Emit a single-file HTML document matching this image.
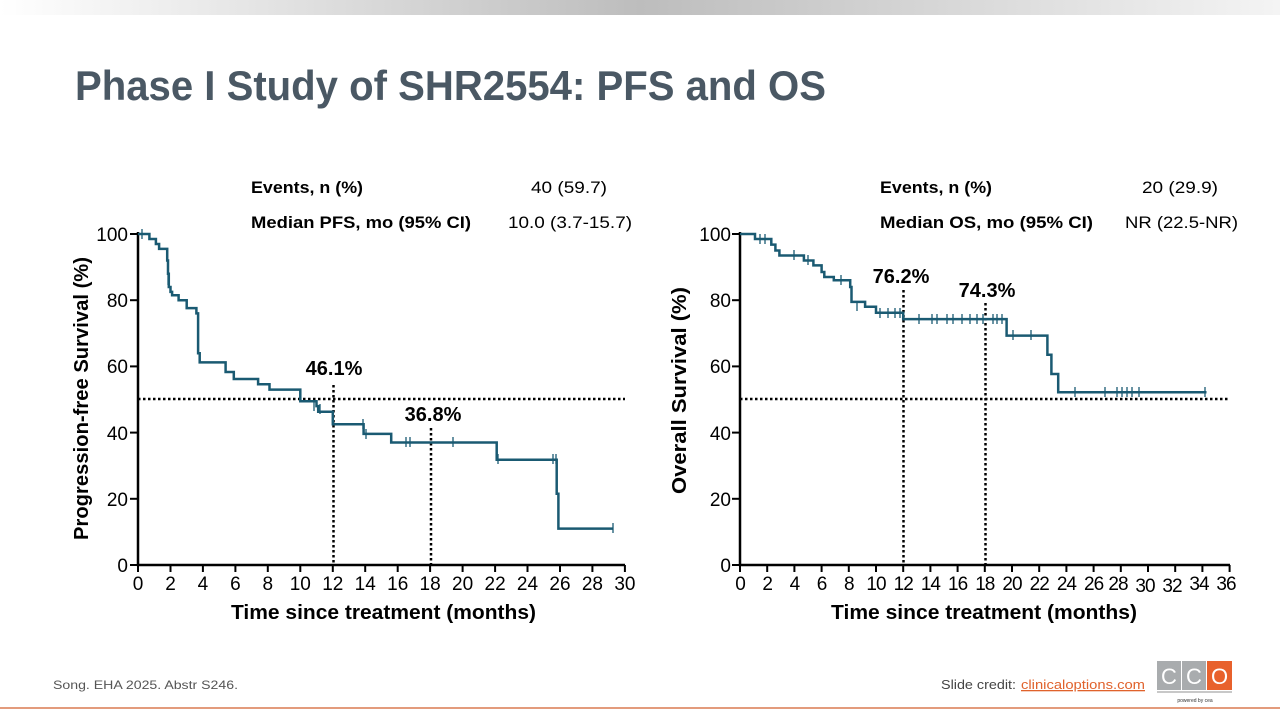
<!DOCTYPE html>
<html><head><meta charset="utf-8"><style>
html,body{margin:0;padding:0;background:#fff;}
svg{display:block;font-family:"Liberation Sans",Arial,sans-serif;}
</style></head><body>
<svg width="1280" height="720" viewBox="0 0 1280 720" xmlns="http://www.w3.org/2000/svg">
<defs>
<linearGradient id="tb" x1="0" x2="1" y1="0" y2="0">
<stop offset="0" stop-color="#ffffff"/><stop offset="0.5" stop-color="#bdbdbd"/><stop offset="1" stop-color="#f4f4f4"/>
</linearGradient>
</defs>
<rect x="0" y="0" width="1280" height="15" fill="url(#tb)"/>
<text x="75" y="100" font-size="42" font-weight="bold" fill="#4a5864" textLength="751" lengthAdjust="spacingAndGlyphs">Phase I Study of SHR2554: PFS and OS</text>

<g font-size="17" fill="#000">
<text x="251" y="193" font-weight="bold" textLength="112" lengthAdjust="spacingAndGlyphs">Events, n (%)</text>
<text x="531" y="193" textLength="76" lengthAdjust="spacingAndGlyphs">40 (59.7)</text>
<text x="251" y="228" font-weight="bold" textLength="220" lengthAdjust="spacingAndGlyphs">Median PFS, mo (95% CI)</text>
<text x="508" y="228" textLength="124" lengthAdjust="spacingAndGlyphs">10.0 (3.7-15.7)</text>
<text x="880" y="193" font-weight="bold" textLength="112" lengthAdjust="spacingAndGlyphs">Events, n (%)</text>
<text x="1142" y="193" textLength="76" lengthAdjust="spacingAndGlyphs">20 (29.9)</text>
<text x="880" y="228" font-weight="bold" textLength="213" lengthAdjust="spacingAndGlyphs">Median OS, mo (95% CI)</text>
<text x="1125" y="228" textLength="113" lengthAdjust="spacingAndGlyphs">NR (22.5-NR)</text>
</g>

<!-- LEFT chart -->
<g stroke="#000" stroke-width="2.5" fill="none">
<path d="M138,232 V565 H625"/>
</g>
<g stroke="#000" stroke-width="2">
<line x1="130" y1="234" x2="138" y2="234"/><line x1="130" y1="300.2" x2="138" y2="300.2"/><line x1="130" y1="366.4" x2="138" y2="366.4"/><line x1="130" y1="432.6" x2="138" y2="432.6"/><line x1="130" y1="498.8" x2="138" y2="498.8"/><line x1="130" y1="565" x2="138" y2="565"/>
<line x1="138" y1="565" x2="138" y2="572"/><line x1="170.5" y1="565" x2="170.5" y2="572"/><line x1="202.9" y1="565" x2="202.9" y2="572"/><line x1="235.4" y1="565" x2="235.4" y2="572"/><line x1="267.8" y1="565" x2="267.8" y2="572"/><line x1="300.3" y1="565" x2="300.3" y2="572"/><line x1="332.8" y1="565" x2="332.8" y2="572"/><line x1="365.2" y1="565" x2="365.2" y2="572"/><line x1="397.7" y1="565" x2="397.7" y2="572"/><line x1="430.1" y1="565" x2="430.1" y2="572"/><line x1="462.6" y1="565" x2="462.6" y2="572"/><line x1="495.1" y1="565" x2="495.1" y2="572"/><line x1="527.5" y1="565" x2="527.5" y2="572"/><line x1="560" y1="565" x2="560" y2="572"/><line x1="592.4" y1="565" x2="592.4" y2="572"/><line x1="624.9" y1="565" x2="624.9" y2="572"/>
</g>
<g font-size="19" fill="#000" text-anchor="end">
<text x="128" y="241">100</text><text x="128" y="307">80</text><text x="128" y="373">60</text><text x="128" y="440">40</text><text x="128" y="506">20</text><text x="128" y="572">0</text>
</g>
<g font-size="19" fill="#000" text-anchor="middle">
<text x="138" y="590">0</text><text x="170.5" y="590">2</text><text x="202.9" y="590">4</text><text x="235.4" y="590">6</text><text x="267.8" y="590">8</text><text x="300.3" y="590">10</text><text x="332.8" y="590">12</text><text x="365.2" y="590">14</text><text x="397.7" y="590">16</text><text x="430.1" y="590">18</text><text x="462.6" y="590">20</text><text x="495.1" y="590">22</text><text x="527.5" y="590">24</text><text x="560" y="590">26</text><text x="592.4" y="590">28</text><text x="624.9" y="590">30</text>
</g>
<text x="231" y="619" font-size="20" font-weight="bold" textLength="305" lengthAdjust="spacingAndGlyphs">Time since treatment (months)</text>
<text transform="translate(88,540) rotate(-90)" font-size="20" font-weight="bold" textLength="283" lengthAdjust="spacingAndGlyphs">Progression-free Survival (%)</text>
<g stroke="#000" stroke-width="2.5" stroke-dasharray="2.5,2.5" fill="none">
<line x1="138" y1="399" x2="625" y2="399"/>
<line x1="333.5" y1="385" x2="333.5" y2="565"/>
<line x1="431" y1="428" x2="431" y2="565"/>
</g>
<path d="M138,234 H149.4 V239 H155.9 V244 H159.1 V248.9 H167.2 V260.5 H168 V273.7 H168.8 V287 H170.5 V291.9 H172.1 V295.2 H178.6 V300.2 H186.7 V308.1 H196.4 V313.4 H198.1 V353.2 H199.7 V362.4 H225.6 V372 H233.8 V379 H258.1 V384.3 H269.5 V389.6 H300.3 V401.2 H316.5 V406.1 H318.2 V411.7 H332.8 V424.3 H363.6 V433.9 H391.2 V442.5 H496.7 V459.7 H556.7 V493.8 H558.4 V528.6 H613.5" fill="none" stroke="#1a5a72" stroke-width="2.5"/>
<g stroke="#1a5a72" stroke-width="1.3">
<line x1="142" y1="229" x2="142" y2="239"/><line x1="168" y1="275" x2="168" y2="285"/><line x1="314" y1="401" x2="314" y2="411"/><line x1="320" y1="404" x2="320" y2="414"/><line x1="363" y1="419" x2="363" y2="429"/><line x1="366" y1="429" x2="366" y2="439"/><line x1="406" y1="437" x2="406" y2="447"/><line x1="410" y1="437" x2="410" y2="447"/><line x1="453" y1="437" x2="453" y2="447"/><line x1="498" y1="454" x2="498" y2="464"/><line x1="553" y1="454" x2="553" y2="464"/><line x1="556" y1="454" x2="556" y2="464"/><line x1="613" y1="523" x2="613" y2="533"/>
</g>
<text x="334" y="375" font-size="20" font-weight="bold" text-anchor="middle">46.1%</text>
<text x="433" y="421" font-size="20" font-weight="bold" text-anchor="middle">36.8%</text>

<!-- RIGHT chart -->
<g stroke="#000" stroke-width="2.5" fill="none">
<path d="M740,232 V565 H1230"/>
</g>
<g stroke="#000" stroke-width="2">
<line x1="732" y1="234" x2="740" y2="234"/><line x1="732" y1="300.2" x2="740" y2="300.2"/><line x1="732" y1="366.4" x2="740" y2="366.4"/><line x1="732" y1="432.6" x2="740" y2="432.6"/><line x1="732" y1="498.8" x2="740" y2="498.8"/><line x1="732" y1="565" x2="740" y2="565"/>
<line x1="740" y1="565" x2="740" y2="572"/><line x1="767.2" y1="565" x2="767.2" y2="572"/><line x1="794.4" y1="565" x2="794.4" y2="572"/><line x1="821.6" y1="565" x2="821.6" y2="572"/><line x1="848.8" y1="565" x2="848.8" y2="572"/><line x1="876" y1="565" x2="876" y2="572"/><line x1="903.2" y1="565" x2="903.2" y2="572"/><line x1="930.4" y1="565" x2="930.4" y2="572"/><line x1="957.6" y1="565" x2="957.6" y2="572"/><line x1="984.8" y1="565" x2="984.8" y2="572"/><line x1="1012" y1="565" x2="1012" y2="572"/><line x1="1039.2" y1="565" x2="1039.2" y2="572"/><line x1="1066.4" y1="565" x2="1066.4" y2="572"/><line x1="1093.6" y1="565" x2="1093.6" y2="572"/><line x1="1120.8" y1="565" x2="1120.8" y2="572"/><line x1="1148" y1="565" x2="1148" y2="572"/><line x1="1175.2" y1="565" x2="1175.2" y2="572"/><line x1="1202.4" y1="565" x2="1202.4" y2="572"/><line x1="1229.6" y1="565" x2="1229.6" y2="572"/>
</g>
<g font-size="19" fill="#000" text-anchor="end">
<text x="731" y="241">100</text><text x="731" y="307">80</text><text x="731" y="373">60</text><text x="731" y="440">40</text><text x="731" y="506">20</text><text x="731" y="572">0</text>
</g>
<g font-size="19" fill="#000" text-anchor="middle" letter-spacing="-1">
<text x="740" y="590">0</text><text x="767.2" y="590">2</text><text x="794.4" y="590">4</text><text x="821.6" y="590">6</text><text x="848.8" y="590">8</text><text x="876" y="590">10</text><text x="903.2" y="590">12</text><text x="930.4" y="590">14</text><text x="957.6" y="590">16</text><text x="984.8" y="590">18</text><text x="1012" y="590">20</text><text x="1039.2" y="590">22</text><text x="1066.4" y="590">24</text><text x="1093.6" y="590">26</text><text x="1118" y="590">28</text><text x="1145" y="592">30</text><text x="1172" y="592">32</text><text x="1199" y="590">34</text><text x="1226" y="590">36</text>
</g>
<text x="831" y="619" font-size="20" font-weight="bold" textLength="306" lengthAdjust="spacingAndGlyphs">Time since treatment (months)</text>
<text transform="translate(686,494) rotate(-90)" font-size="20" font-weight="bold" textLength="207" lengthAdjust="spacingAndGlyphs">Overall Survival (%)</text>
<g stroke="#000" stroke-width="2.5" stroke-dasharray="2.5,2.5" fill="none">
<line x1="740" y1="399" x2="1230" y2="399"/>
<line x1="903.5" y1="290" x2="903.5" y2="565"/>
<line x1="985.5" y1="303" x2="985.5" y2="565"/>
</g>
<path d="M740,234 H755 V239 H771.3 V244.6 H775.4 V250.5 H779.4 V255.5 H803.9 V260.5 H813.4 V265.4 H821.6 V272 H824.3 V277 H833.8 V280.3 H850.2 V287 H851.5 V301.9 H865.1 V306.8 H876 V312.8 H903.2 V319.1 H1006.6 V335.6 H1047.4 V354.8 H1051.4 V374 H1058.2 V392.2 H1206.5" fill="none" stroke="#1a5a72" stroke-width="2.5"/>
<g stroke="#1a5a72" stroke-width="1.3">
<line x1="760" y1="234" x2="760" y2="244"/><line x1="765" y1="234" x2="765" y2="244"/><line x1="794" y1="250" x2="794" y2="260"/><line x1="808" y1="255" x2="808" y2="265"/><line x1="841" y1="275" x2="841" y2="285"/><line x1="857" y1="301" x2="857" y2="311"/>
<line x1="880" y1="308" x2="880" y2="318"/><line x1="888" y1="308" x2="888" y2="318"/><line x1="895" y1="308" x2="895" y2="318"/><line x1="900" y1="308" x2="900" y2="318"/>
<line x1="919" y1="314" x2="919" y2="324"/><line x1="932" y1="314" x2="932" y2="324"/><line x1="937" y1="314" x2="937" y2="324"/><line x1="947" y1="314" x2="947" y2="324"/><line x1="953" y1="314" x2="953" y2="324"/><line x1="962" y1="314" x2="962" y2="324"/><line x1="970" y1="314" x2="970" y2="324"/><line x1="977" y1="314" x2="977" y2="324"/><line x1="983" y1="314" x2="983" y2="324"/><line x1="993" y1="314" x2="993" y2="324"/><line x1="997" y1="314" x2="997" y2="324"/><line x1="1002" y1="314" x2="1002" y2="324"/>
<line x1="1013" y1="330" x2="1013" y2="340"/><line x1="1031" y1="330" x2="1031" y2="340"/>
<line x1="1075" y1="387" x2="1075" y2="397"/><line x1="1105" y1="387" x2="1105" y2="397"/><line x1="1117" y1="387" x2="1117" y2="397"/><line x1="1122" y1="387" x2="1122" y2="397"/><line x1="1127" y1="387" x2="1127" y2="397"/><line x1="1132" y1="387" x2="1132" y2="397"/><line x1="1139" y1="387" x2="1139" y2="397"/><line x1="1205" y1="387" x2="1205" y2="397"/>
</g>
<text x="901" y="283" font-size="20" font-weight="bold" text-anchor="middle">76.2%</text>
<text x="987" y="297" font-size="20" font-weight="bold" text-anchor="middle">74.3%</text>

<!-- footer -->
<text x="53" y="689" font-size="12" fill="#555" textLength="185" lengthAdjust="spacingAndGlyphs">Song. EHA 2025. Abstr S246.</text>
<text x="941" y="689" font-size="13" fill="#444" textLength="75" lengthAdjust="spacingAndGlyphs">Slide credit:</text>
<text x="1021" y="689" font-size="13" fill="#e0622c" text-decoration="underline" textLength="124" lengthAdjust="spacingAndGlyphs">clinicaloptions.com</text>
<rect x="1157" y="661" width="24" height="29" fill="#a9acae"/>
<rect x="1182" y="661" width="24" height="29" fill="#a9acae"/>
<rect x="1207" y="661" width="25" height="29" fill="#e8612c"/>
<g font-size="22" fill="#fff" text-anchor="middle"><text x="1169" y="684">C</text><text x="1194" y="684">C</text><text x="1219.5" y="684">O</text></g>
<rect x="1157" y="691" width="75" height="2" fill="#c8c8c8"/>
<text x="1195" y="702" font-size="5" fill="#333" text-anchor="middle">powered by cea</text>
<rect x="0" y="707" width="1280" height="2" fill="#e39b7c"/>
</svg>
</body></html>
